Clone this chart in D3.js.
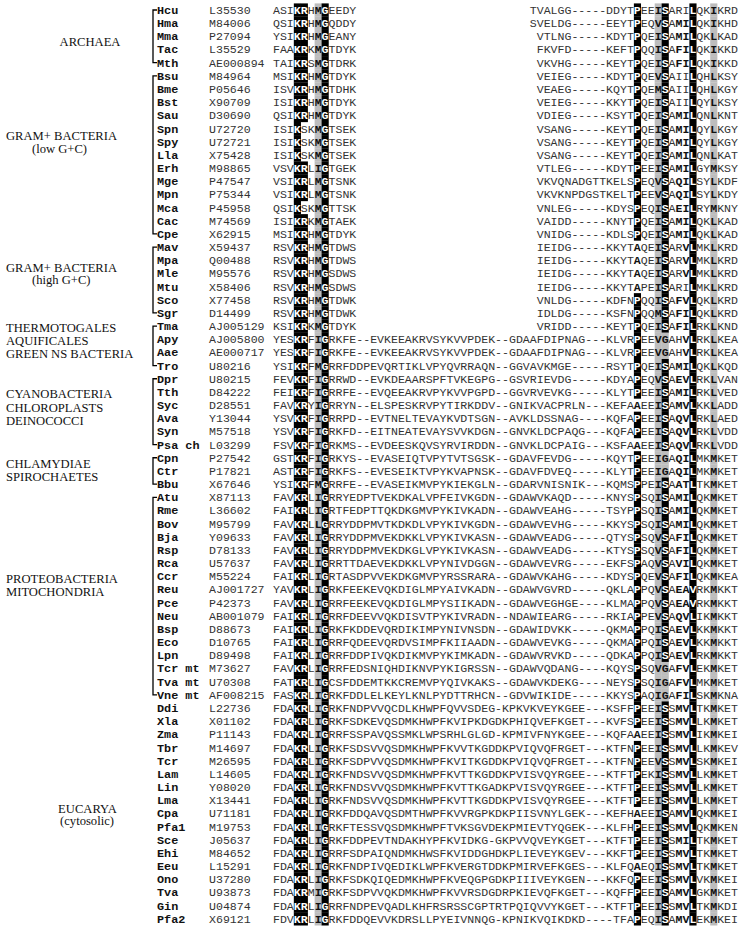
<!DOCTYPE html>
<html>
<head>
<meta charset="utf-8">
<script src="https://cdn.jsdelivr.net/npm/d3@7"></script>
<style>
  body { margin: 0; background: #fff; }
  svg { display: block; }
</style>
</head>
<body>
<svg id="chart" width="742" height="936"></svg>
<script>
//species codes, in row order
const species = ["Hcu","Hma","Mma","Tac","Mth",
  "Bsu","Bme","Bst","Sau","Spn","Spy","Lla","Erh","Mge","Mpn","Mca","Cac","Cpe",
  "Mav","Mpa","Mle","Mtu","Sco","Sgr",
  "Tma","Apy","Aae","Tro",
  "Dpr","Tth","Syc","Ava","Syn","Psa ch",
  "Cpn","Ctr","Bbu",
  "Atu","Rme","Bov","Bja","Rsp","Rca","Ccr","Reu","Pce","Neu","Bsp","Eco","Lpn","Tcr mt","Tva mt","Vne mt",
  "Ddi","Xla","Zma","Tbr","Tcr","Lam","Lin","Lma","Cpa","Pfa1","Sce","Ehi","Eeu","Ono","Tva","Gin","Pfa2"];

const accessions = ["L35530","M84006","P27094","L35529","AE000894",
  "M84964","P05646","X90709","D30690","U72720","U72721","X75428","M98865","P47547","P75344","P45958","M74569","X62915",
  "X59437","Q00488","M95576","X58406","X77458","D14499",
  "AJ005129","AJ005800","AE000717","U80216",
  "U80215","D84222","D28551","Y13044","M57518","L03299",
  "P27542","P17821","X67646",
  "X87113","L36602","M95799","Y09633","D78133","U57637","M55224","AJ001727","P42373","AB001079","D88673","D10765","D89498","M73627","U70308","AF008215",
  "L22736","X01102","P11143","M14697","M26595","L14605","Y08020","X13441","U71181","M19753","J05637","M84652","L15291","U37280","U93873","U04874","X69121"];

//"|" marks a gap: the part after it is right aligned
const sequences = [
  "ASIKRHMGEEDY|TVALGG-----DDYTPEEISARILQKIKRD",
  "QSIKRHMGQDDY|SVELDG-----EEYTPEQVSAMILQKIKHD",
  "YSIKRHMGEANY|VTLNG-----KDYTPQEISAMILQKLKAD",
  "FAAKRKMGTDYK|FKVFD-----KEFTPQQISAFILQKIKKD",
  "TAIKRSMGTDRK|VKVHG-----KEYTPQEISAFILQKIKKD",
  "MSIKRHMGTDYK|VEIEG-----KDYTPQEVSAIILQHLKSY",
  "ISVKRHMGTDHK|VEAEG-----KQYTPQEMSAIILQHLKGY",
  "ISIKRHMGTDYK|VEIEG-----KKYTPQEISAIILQYLKSY",
  "QSIKRHMGTDYK|VDIEG-----KSYTPQEISAMILQNLKNT",
  "ISIKSKMGTSEK|VSANG-----KEYTPQEISAMILQYLKGY",
  "ISIKSKMGTSEK|VSANG-----KEYTPQEISAMILQYLKGY",
  "ISIKSKMGTSEK|VSANG-----KEYTPQEISAMILQNLKAT",
  "VSVKRLIGTGEK|VTLEG-----KDYTPEEISAMILGYMKSY",
  "VSIKRLMGTSNK|VKVQNADGTTKELSPEQVSAQILSYLKDF",
  "VSIKRLMGTSNK|VKVKNPDGSTKELTPEEVSAQILSYLKDY",
  "QSIKSKMGTTSK|VNLEG-----KDYSPEQISAEILRYMKNY",
  "ISIKRKMGTAEK|VAIDD-----KNYTPQEISAMILQKLKAD",
  "MSIKRHMGTDYK|VNIDG-----KDLSPQEISAMILQKLKAD",
  "RSVKRHMGTDWS|IEIDG-----KKYTAQEISARVLMKLKRD",
  "RSVKRHMGTDWS|IEIDG-----KKYTAQEISARVLMKLKRD",
  "RSVKRHMGSDWS|IEIDG-----KKYTAQEISARVLMKLKRD",
  "RSVKRHMGSDWS|IEIDG-----KKYTAPEISARILMKLKRD",
  "RSVKRHMGTDWK|VNLDG-----KDFNPQQISAFVLQKLKRD",
  "RSVKRHMGTDWK|IDLDG-----KSFNPQQMSAFILQKLKRD",
  "KSIKRKMGTDYK|VRIDD-----KEYTPQEISAFILRKLKND",
  "YESKRFIGRKFE--EVKEEAKRVSYKVVPDEK--GDAAFDIPNAG---KLVRPEEVGAHVLRKLKEA",
  "YESKRFIGRKFE--EVKEEAKRVSYKVVPDEK--GDAAFDIPNAG---KLVRPEEVGAHVLRKLKEA",
  "YSIKRFMGRRFDDPEVQRTIKLVPYQVRRAQN--GGVAVKMGE-----RSYTPQEISAMILQKLKQD",
  "FEVKRFIGRRWD--EVKDEAARSPFTVKEGPG--GSVRIEVDG-----KDYAPEQVSAEVLRKLVAN",
  "FEIKRFIGRRFE--EVQEEAKRVPYKVVPGPD--GGVRVEVKG-----KLYTPEEISAMILRKLVED",
  "FAVKRYIGRRYN--ELSPESKRVPYTIRKDDV--GNIKVACPRLN---KEFAAEEISAMVLKKLADD",
  "YSVKRFIGRRPD--EVTNELTEVAYKVDTSGN--AVKLDSSNAG----KQFAPEEISAQVLRKLAED",
  "YSVKRFIGRKFD--EITNEATEVAYSVVKDGN--GNVKLDCPAQG---KQFAPEEISAQVLRKLVDD",
  "FSVKRFIGRKMS--EVDEESKQVSYRVIRDDN--GNVKLDCPAIG---KSFAAEEISAQVLRKLVDD",
  "GSTKRFIGRKYS--EVASEIQTVPYTVTSGSK--GDAVFEVDG-----KQYTPEEIGAQILMKMKET",
  "ASTKRFIGRKFS--EVESEIKTVPYKVAPNSK--GDAVFDVEQ-----KLYTPEEIGAQILMKMKET",
  "YSIKRFMGRRFE--EVASEIKMVPYKIEKGLN--GDARVNISNIK---KQMSPPEISAATLTKMKET",
  "FAVKRLIGRRYEDPTVEKDKALVPFEIVKGDN--GDAWVKAQD-----KNYSPSQISAMILQKMKET",
  "FAIKRLIGRTFEDPTTQKDKGMVPYKIVKADN--GDAWVEAHG-----TSYPPSQISAMILQKMKET",
  "FAVKRLLGRRYDDPMVTKDKDLVPYKIVKGDN--GDAWVEVHG-----KKYSPSQISAMILQKMKET",
  "FAVKRLIGRRYDDPMVEKDKKLVPYKIVKASN--GDAWVEADG-----QTYSPSQVSAFILQKMKET",
  "FAVKRLIGRRYDDPMVEKDKGLVPYKIVKASN--GDAWVEADG-----KTYSPSQVSAFILQKMKET",
  "FAVKRLIGRRTTDAEVEKDKKLVPYNIVDGGN--GDAWVEVRG-----EKFSPAQVSAVILQKMKET",
  "FAIKRLIGRTASDPVVEKDKGMVPYRSSRARA--GDAWVKAHG-----KDYSPQEVSAFILQKMKEA",
  "YAVKRLIGRKFEEKEVQKDIGLMPYAIVKADN--GDAWVGVRD-----QKLAPPQVSAEAVRKMKKT",
  "FAVKRLIGRRFEEKEVQKDIGLMPYSIIKADN--GDAWVEGHGE----KLMAPPQVSAEAVRKMKKT",
  "FAIKRLIGRRFDEEVVQKDISVTPYKIVRADN--NDAWIEARG-----RKIAPPEVSAQVLIKMKKT",
  "FAIKRLIGRKFKDDEVQRDIKIMPYNIVNSDN--GDAWIDVKK-----QKMAPPQISAEVLKKMKKT",
  "FAIKRLIGRRFQDEEVQRDVSIMPFKIIAADN--GDAWVEVKG-----QKMAPPQISAEVLKKMKKT",
  "FAIKRLIGRRFDDPIVQKDIKMVPYKIMKADN--GDAWVRVKD-----QDKAPPQISAEVLRKMKKT",
  "FAVKRLIGRRFEDSNIQHDIKNVPYKIGRSSN--GDAWVQDANG----KQYSPSQVGAFVLEKMKET",
  "FATKRLIGCSFDDEMTKKCREMVPYQIVKAKS--GDAWVKDEKG----NEYSPSQIGAFVLMKMKET",
  "FASKRLIGRKFDDLELKEYLKNLPYDTTRHCN--GDVWIKIDE-----KKYSPAQIGAFILSKMKNA",
  "FDAKRLIGRKFNDPVVQCDLKHWPFQVVSDEG-KPKVKVEYKGEE---KSFFPEEISSMVLTKMKET",
  "FDAKRLIGRKFSDKEVQSDMKHWPFKVIPKDGDKPHIQVEFKGET---KVFSPEEISSMVLLKMKET",
  "FDAKRLIGRRFSSPAVQSSMKLWPSRHLGLGD-KPMIVFNYKGEE---KQFAAEEISSMVLIKMKEI",
  "FDAKRLIGRKFSDSVVQSDMKHWPFKVVTKGDDKPVIQVQFRGET---KTFNPEEISSMVLLKMKEV",
  "FDAKRLIGRKFSDPVVQSDMKHWPFKVITKGDDKPVIQVQFRGET---KTFNPEEVSSMVLSKMKEI",
  "FDAKRLIGRKFNDSVVQSDMKHWPFKVTTKGDDKPVISVQYRGEE---KTFTPEKISSMVLLKMKET",
  "FDAKRLIGRKFNDSVVQSDMKHWPFKVTTKGADKPVISVQYRGEE---KTFTPEEISSMVLLKMKET",
  "FDAKRLIGRKFNDSVVQSDMKHWPFKVTTKGDDKPVISVQYRGEE---KTFTPEEISSMVLLKMKET",
  "FDAKRLIGRKFDDQAVQSDMTHWPFKVVRGPKDKPIISVNYLGEK---KEFHAEEISAMVLQKMKEI",
  "FDAKRLIGRKFTESSVQSDMKHWPFTVKSGVDEKPMIEVTYQGEK---KLFHPEEISSMVLQKMKEN",
  "FDAKRLIGRKFDDPEVTNDAKHYPFKVIDKG-GKPVVQVEYKGET---KTFTPEEISSMILTKMKET",
  "FDAKRLIGRRFSDPAIQNDMKHWSFKVIDDGHDKPLIEVEYKGEV---KKFTPEEISSMVLTKMKET",
  "FDAKRLIGRKFNDPIVQEDIKLWPFKVERGTDDKPMIRVEFKGES---KLFQAEQISSMVLTKMKET",
  "FDAKRLIGRKFSDKQIQEDMKHWPFKVEQGPGDKPIIIVEYKGEN---KKFQPEEISSMVLVKMKEI",
  "FDAKRMIGRKFSDPVVQKDMKHWPFKVVRSDGDRPKIEVQFKGET---KQFFPEEISAMVLGKMKET",
  "FDAKRLIGRRFNDPEVQADLKHFRSRSSCGPTRTPQIQVVYKGET---KTFTPEEISSMVLTKMKDI",
  "FDVKRLIGRKFDDQEVVKDRSLLPYEIVNNQG-KPNIKVQIKDKD----TFAPEQISAMVLEKMKEI"];

//taxonomic groups: label lines and first/last row
const groupNames = [
  ["ARCHAEA"],
  ["GRAM+ BACTERIA", "(low G+C)"],
  ["GRAM+ BACTERIA", "(high G+C)"],
  ["THERMOTOGALES", "AQUIFICALES", "GREEN NS BACTERIA"],
  ["CYANOBACTERIA", "CHLOROPLASTS", "DEINOCOCCI"],
  ["CHLAMYDIAE", "SPIROCHAETES"],
  ["PROTEOBACTERIA", "MITOCHONDRIA"],
  ["EUCARYA", "(cytosolic)"]];
const groupFirst = [0, 5, 18, 24, 28, 34, 37, 53];
const groupLast = [4, 17, 23, 27, 33, 36, 52, 69];

//conserved columns: identical residue shaded black, others grey
const blackCols = [3, 4, 7, 52, 56, 60];
const blackResidue = { 3: "K", 4: "R", 7: "G", 52: "P", 56: "S" };
const greyCols = [6, 55, 63];
const boldPairCols = [58, 59];

const nCols = 67;
const svg = d3.select("#chart");
const monoFont = "'Liberation Mono', 'Courier New', monospace";
const serifFont = "'Liberation Serif', 'Times New Roman', serif";
const charW = 6.94;
const rowH = 13.17;

const x = d3.scaleLinear().domain([0, nCols]).range([273, 273 + nCols * charW]);
const y = d3.scaleBand().domain(d3.range(species.length)).range([3.4, 3.4 + species.length * rowH]);

//turns a stored sequence into 67 columns
function toColumns(s) {
    const parts = s.split("|");
    if (parts.length === 1) return s.split("");
    return (parts[0].padEnd(nCols - parts[1].length, " ") + parts[1]).split("");
}

//shading of one residue
function cellStyle(i, c, cols) {
    if (blackCols.includes(i)) {
        if (i === 60) return "black";
        if (blackResidue[i] === c) return "black";
        if (i === 56) return "grey";
        if (i === 52) return "bold";
        return "plain";
    }
    if (greyCols.includes(i)) return "grey";
    if (boldPairCols.includes(i)) {
        const b58 = "MFQEVA".includes(cols[58]);
        if (i === 58) return b58 ? "bold" : "plain";
        if ("VAT".includes(c) || (c === "I" && b58)) return "bold";
    }
    return "plain";
}

const cells = [];
sequences.forEach((s, r) => {
    const cols = toColumns(s);
    cols.forEach((c, i) => {
        if (c === " ") return;
        cells.push({ r, i, c, style: cellStyle(i, c, cols) });
    });
});

//cell backgrounds
svg.append("g")
    .selectAll("rect")
    .data(cells.filter(d => d.style === "black" || d.style === "grey"))
    .enter()
    .append("rect")
    .attr("x", d => x(d.i))
    .attr("y", d => y(d.r))
    .attr("width", charW + 0.2)
    .attr("height", y.bandwidth() + 0.2)
    .attr("fill", d => d.style === "black" ? "#000" : "#bdbdbd");

//residues
svg.append("g")
    .attr("font-family", monoFont)
    .attr("font-size", "11.57px")
    .attr("text-anchor", "middle")
    .selectAll("text")
    .data(cells)
    .enter()
    .append("text")
    .attr("x", d => x(d.i) + charW / 2)
    .attr("y", d => y(d.r) + y.bandwidth() / 2 + 4)
    .attr("font-weight", d => d.style === "plain" ? "normal" : "bold")
    .attr("fill", d => d.style === "black" ? "#fff" : (d.style === "plain" ? "#333" : "#111"))
    .text(d => d.c);

//accession numbers
svg.append("g")
    .attr("font-family", monoFont)
    .attr("font-size", "11.57px")
    .attr("fill", "#333")
    .selectAll("text")
    .data(accessions)
    .enter()
    .append("text")
    .attr("x", 209)
    .attr("y", (d, i) => y(i) + y.bandwidth() / 2 + 4)
    .text(d => d);

//species codes
svg.append("g")
    .attr("font-family", monoFont)
    .attr("font-size", "11.8px")
    .attr("font-weight", "bold")
    .attr("fill", "#111")
    .selectAll("text")
    .data(species)
    .enter()
    .append("text")
    .attr("x", 157)
    .attr("y", (d, i) => y(i) + y.bandwidth() / 2 + 4)
    .text(d => d);

//brackets for the groups
const brackets = svg.append("g")
    .attr("fill", "none")
    .attr("stroke", "#000")
    .attr("stroke-width", 1.3);

groupFirst.forEach((f, g) => {
    if (g === groupFirst.length - 1) return;
    const y0 = y(f) + y.bandwidth() / 2;
    const y1 = y(groupLast[g]) + y.bandwidth() / 2;
    brackets.append("path")
        .attr("d", `M157,${y0}H153V${y1}H157`);
});

//group labels: x, anchor and baselines of each line
const labelPlace = [
    { x: [90], anchor: "middle", base: [46] },
    { x: [6, 32], anchor: "start", base: [140, 152.5] },
    { x: [6, 32], anchor: "start", base: [271.7, 284] },
    { x: [6, 6, 6], anchor: "start", base: [331.7, 345, 358.3] },
    { x: [6, 6, 6], anchor: "start", base: [398, 411.5, 425] },
    { x: [6, 6], anchor: "start", base: [468, 481] },
    { x: [6, 6], anchor: "start", base: [583, 596] },
    { x: [87.5, 87], anchor: "middle", base: [812.5, 825] }];

const labels = svg.append("g")
    .attr("font-family", serifFont)
    .attr("font-size", "12.6px")
    .attr("fill", "#111");

groupNames.forEach((lines, g) => {
    lines.forEach((t, k) => {
        labels.append("text")
            .attr("x", labelPlace[g].x[k])
            .attr("y", labelPlace[g].base[k])
            .attr("text-anchor", labelPlace[g].anchor)
            .text(t);
    });
});
</script>
</body>
</html>
